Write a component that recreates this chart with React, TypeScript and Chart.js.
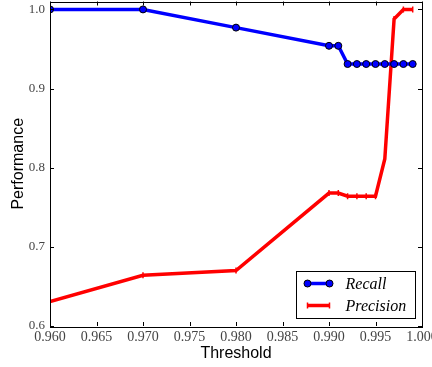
import React, { useEffect, useRef } from "react";
import { Chart, registerables } from "chart.js";

Chart.register(...registerables);

const thresholds = [0.96, 0.97, 0.98, 0.99, 0.991, 0.992, 0.993, 0.994, 0.995, 0.996, 0.997, 0.998, 0.999];
const recall = [1.0, 1.0, 0.977, 0.954, 0.954, 0.931, 0.931, 0.931, 0.931, 0.931, 0.931, 0.931, 0.931];
const precision = [0.631, 0.664, 0.67, 0.768, 0.768, 0.764, 0.764, 0.764, 0.764, 0.811, 0.988, 1.0, 1.0];
const xTicks = [0.96, 0.965, 0.97, 0.975, 0.98, 0.985, 0.99, 0.995, 1.0];
const yTicks = [0.6, 0.7, 0.8, 0.9, 1.0];
const seriesLabels = ["Recall", "Precision"];

const framePlugin = {
  id: "frame",
  afterDraw(chart: any) {
    const { ctx, chartArea: a, scales } = chart;
    ctx.save();
    ctx.strokeStyle = "#000";
    ctx.lineWidth = 1;
    ctx.strokeRect(Math.round(a.left) + 0.5, Math.round(a.top) + 0.5, Math.round(a.right - a.left), Math.round(a.bottom - a.top));
    const tl = 4;
    ctx.beginPath();
    for (const t of scales.x.ticks) {
      const px = Math.round(scales.x.getPixelForValue(t.value)) + 0.5;
      ctx.moveTo(px, a.bottom);
      ctx.lineTo(px, a.bottom - tl);
      ctx.moveTo(px, a.top);
      ctx.lineTo(px, a.top + tl);
    }
    for (const t of scales.y.ticks) {
      const py = Math.round(scales.y.getPixelForValue(t.value)) + 0.5;
      ctx.moveTo(a.left, py);
      ctx.lineTo(a.left + tl, py);
      ctx.moveTo(a.right, py);
      ctx.lineTo(a.right - tl, py);
    }
    ctx.stroke();

    // legend
    const w = 119, h = 47;
    const left = Math.round(a.right - 7 - w) + 0.5;
    const top = Math.round(a.bottom - 8 - h) + 0.5;
    ctx.fillStyle = "#fff";
    ctx.fillRect(left, top, w, h);
    ctx.strokeStyle = "#000";
    ctx.lineWidth = 1;
    ctx.strokeRect(left, top, w, h);
    chart.data.datasets.forEach((ds: any, i: number) => {
      const y = top + 12 + i * 22;
      const x0 = left + 11, x1 = left + 33;
      ctx.strokeStyle = ds.borderColor;
      ctx.lineWidth = 3.5;
      ctx.beginPath();
      ctx.moveTo(x0, y);
      ctx.lineTo(x1, y);
      ctx.stroke();
      for (const x of [x0, x1]) {
        if (i === 0) {
          ctx.beginPath();
          ctx.arc(x, y, 3.5, 0, Math.PI * 2);
          ctx.fillStyle = ds.pointBackgroundColor;
          ctx.fill();
          ctx.lineWidth = 1;
          ctx.strokeStyle = "#000";
          ctx.stroke();
        } else {
          ctx.beginPath();
          ctx.lineWidth = 1.5;
          ctx.strokeStyle = ds.borderColor;
          ctx.moveTo(x, y - 3);
          ctx.lineTo(x, y + 3);
          ctx.stroke();
        }
      }
      ctx.fillStyle = "#000";
      ctx.font = "italic 16px 'Liberation Serif'";
      ctx.textBaseline = "middle";
      ctx.textAlign = "left";
      ctx.fillText(ds.label, left + 49, y + 1);
    });
    ctx.restore();
  },
};

export default function App() {
  const ref = useRef<HTMLCanvasElement>(null);
  useEffect(() => {
    document.body.style.margin = "0";
    const chart = new Chart(ref.current!, {
      type: "line",
      data: {
        datasets: [
          {
            label: seriesLabels[0],
            data: thresholds.map((x, i) => ({ x, y: recall[i] })),
            borderColor: "#0000ff",
            backgroundColor: "#0000ff",
            pointBackgroundColor: "#0000ff",
            pointBorderColor: "#000",
            pointBorderWidth: 1,
            pointRadius: 3.5,
            borderWidth: 3.5,
            tension: 0,
            clip: 0,
          } as any,
          {
            label: seriesLabels[1],
            data: thresholds.map((x, i) => ({ x, y: precision[i] })),
            borderColor: "#ff0000",
            backgroundColor: "#ff0000",
            pointStyle: "line",
            pointRotation: 90,
            pointRadius: 3,
            pointBorderColor: "#ff0000",
            pointBorderWidth: 1.5,
            borderWidth: 3.5,
            tension: 0,
            clip: 0,
          } as any,
        ],
      },
      options: {
        animation: false,
        responsive: false,
        devicePixelRatio: 1,
        layout: { autoPadding: false, padding: { left: 0, right: 10, top: 1.5, bottom: 0 } },
        plugins: { legend: { display: false }, tooltip: { enabled: false } },
        scales: {
          x: {
            type: "linear",
            min: 0.96,
            max: 1.0,
            grid: { display: false, drawTicks: false },
            border: { display: false },
            afterBuildTicks: (s: any) => {
              s.ticks = xTicks.map((v) => ({ value: v }));
            },
            afterFit: (s: any) => {
              s.height = 41;
              s.paddingLeft = 0;
              s.paddingRight = 0;
            },
            ticks: {
              padding: 3,
              maxRotation: 0,
              autoSkip: false,
              color: "#444",
              font: { family: "'Liberation Serif'", size: 14 },
              callback: (v: any) => Number(v).toFixed(3),
            },
            title: {
              display: true,
              text: "Threshold",
              color: "#000",
              font: { family: "'Liberation Sans'", size: 16 },
              padding: { top: 0, bottom: 4 },
            },
          },
          y: {
            type: "linear",
            min: 0.6,
            max: 1.01,
            grid: { display: false, drawTicks: false },
            border: { display: false },
            afterBuildTicks: (s: any) => {
              s.ticks = yTicks.map((v) => ({ value: v }));
            },
            afterFit: (s: any) => {
              s.width = 50;
              s.paddingTop = 0;
              s.paddingBottom = 0;
            },
            ticks: {
              padding: 5,
              color: "#444",
              font: { family: "'Liberation Serif'", size: 13 },
              callback: (v: any) => Number(v).toFixed(1),
            },
            title: {
              display: true,
              text: "Performance",
              color: "#000",
              font: { family: "'Liberation Sans'", size: 16 },
              padding: { top: 9, bottom: 0 },
            },
          },
        },
      } as any,
      plugins: [framePlugin],
    });
    return () => chart.destroy();
  }, []);
  return (
    <div style={{ width: 432, height: 367 }}>
      <canvas ref={ref} width={432} height={367} />
    </div>
  );
}
